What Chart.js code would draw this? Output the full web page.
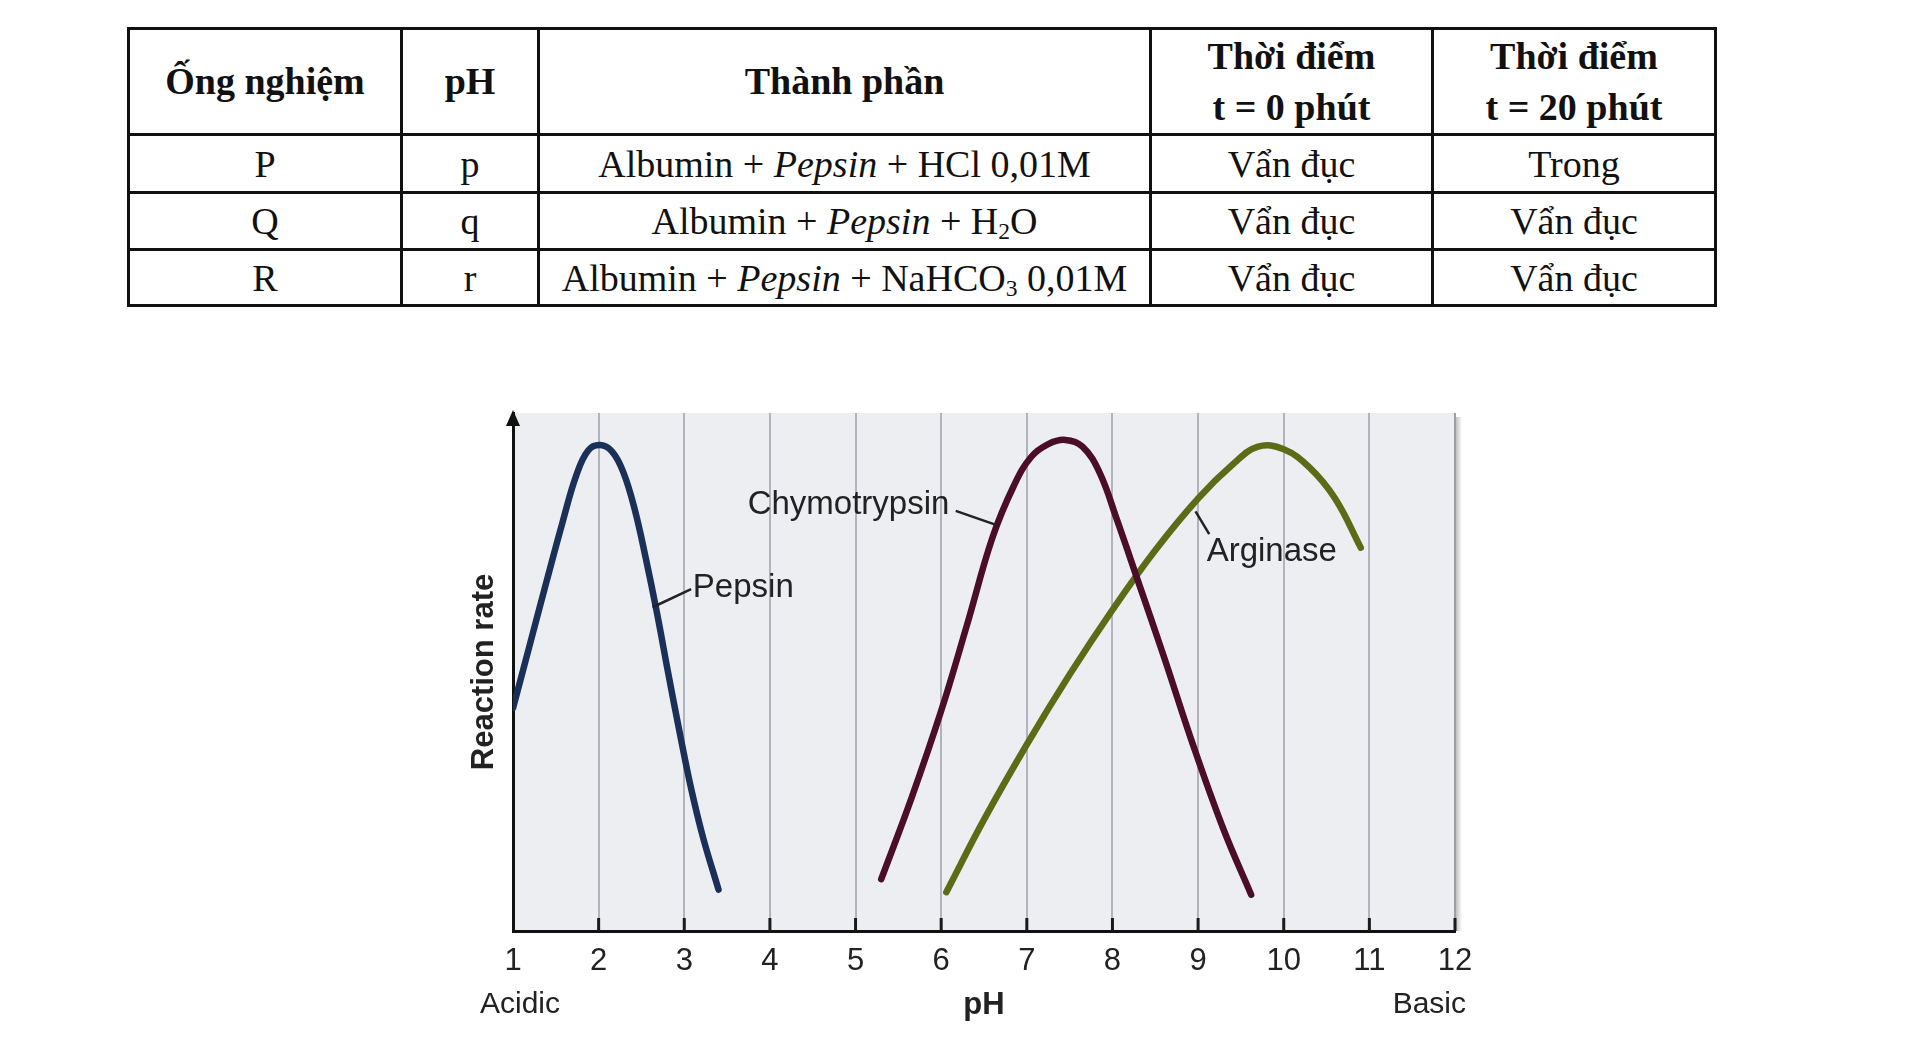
<!DOCTYPE html>
<html>
<head>
<meta charset="utf-8">
<script src="https://cdn.jsdelivr.net/npm/chart.js@4.4.1/dist/chart.umd.min.js"></script>
<style>
  body { margin: 0; background: #fff; width: 1916px; height: 1046px; overflow: hidden; position: relative; }
  table.tn {
    position: absolute; left: 127px; top: 27px;
    border-collapse: collapse; table-layout: fixed; width: 1587px;
    font-family: 'Liberation Serif', 'Times New Roman', serif; font-size: 38px; color: #111;
  }
  table.tn td, table.tn th { border: 3px solid #111; text-align: center; padding: 0; vertical-align: middle; }
  table.tn th { font-weight: bold; line-height: 51px; height: 103px; }
  table.tn tr.r1 td { height: 55px; }
  table.tn tr.r2 td { height: 54px; }
  table.tn tr.r3 td { height: 53px; }
  table.tn sub { font-size: 0.62em; vertical-align: baseline; position: relative; top: 0.22em; }
  #wrap { position: absolute; left: 380px; top: 380px; width: 1140px; height: 660px; }
</style>
</head>
<body>
<table class="tn">
  <colgroup>
    <col style="width:273px"><col style="width:137px"><col style="width:612px"><col style="width:282px"><col style="width:283px">
  </colgroup>
  <tr><th>Ống nghiệm</th><th>pH</th><th>Thành phần</th><th>Thời điểm<br>t = 0 phút</th><th>Thời điểm<br>t = 20 phút</th></tr>
  <tr class="r1"><td>P</td><td>p</td><td>Albumin + <i>Pepsin</i> + HCl 0,01M</td><td>Vẩn đục</td><td>Trong</td></tr>
  <tr class="r2"><td>Q</td><td>q</td><td>Albumin + <i>Pepsin</i> + H<sub>2</sub>O</td><td>Vẩn đục</td><td>Vẩn đục</td></tr>
  <tr class="r3"><td>R</td><td>r</td><td>Albumin + <i>Pepsin</i> + NaHCO<sub>3</sub> 0,01M</td><td>Vẩn đục</td><td>Vẩn đục</td></tr>
</table>
<div id="wrap"><canvas id="ph_chart" width="1140" height="660"></canvas></div>
<script>
// pH ticks on the x axis
const phTicks = [1, 2, 3, 4, 5, 6, 7, 8, 9, 10, 11, 12]

// curves (pH, relative reaction rate 0-100)
const pepsinPH = [1.0, 1.2, 1.4, 1.58, 1.74, 1.88, 2.02, 2.16, 2.29, 2.42, 2.55, 2.68, 2.81, 2.95, 3.08, 3.22, 3.4]
const pepsinRate = [43, 55.5, 68, 79, 88, 92.8, 93.8, 92.5, 88.5, 81.5, 72, 61.5, 50, 38, 27.5, 18, 8]

const chymoPH = [5.3, 5.65, 6.0, 6.3, 6.6, 6.85, 7.05, 7.25, 7.45, 7.65, 7.85, 8.05, 8.3, 8.6, 8.95, 9.3, 9.62]
const chymoRate = [10, 25.5, 42.5, 59, 76, 86, 91.5, 94, 94.8, 93.5, 88.5, 79.5, 67.5, 53, 35.5, 19.5, 7]

const arginasePH = [6.06, 6.5, 7.0, 7.5, 8.0, 8.5, 9.0, 9.4, 9.7, 10.0, 10.3, 10.6, 10.9]
const arginaseRate = [7.5, 21.5, 36, 49.5, 62, 73.5, 83.5, 90, 93.5, 93, 89.5, 83.5, 74]

// curve labels and their leader lines (in pH / rate units)
const labelNames = ['Pepsin', 'Chymotrypsin', 'Arginase']
const labelPH = [3.1, 3.74, 9.1]
const labelRate = [66.2, 82.2, 73.2]
const leaderFrom = [[2.63, 62.5], [6.17, 81.1], [8.97, 81]]
const leaderTo = [[3.08, 66], [6.64, 78.4], [9.13, 76.6]]

const sansFont = "'Liberation Sans', Arial, sans-serif"
Chart.defaults.font.family = sansFont
Chart.defaults.color = '#222'

const toPoints = (xs, ys) => xs.map((x, i) => ({ x: x, y: ys[i] }))

const phDecor = {
  id: 'phDecor',
  beforeDraw(chart) {
    const { ctx, chartArea: a } = chart
    ctx.save()
    // soft shadow on the right edge of the panel
    const g = ctx.createLinearGradient(a.right, 0, a.right + 7, 0)
    g.addColorStop(0, 'rgba(120,122,128,0.55)')
    g.addColorStop(1, 'rgba(120,122,128,0)')
    ctx.fillStyle = g
    ctx.fillRect(a.right, a.top + 4, 7, a.bottom - a.top - 4)
    ctx.fillStyle = '#eceef2'
    ctx.fillRect(a.left, a.top, a.right - a.left, a.bottom - a.top)
    ctx.restore()
  },
  afterDraw(chart) {
    const { ctx, chartArea: a } = chart
    const xs = chart.scales.x
    const ys = chart.scales.y
    ctx.save()
    // inward ticks
    ctx.strokeStyle = '#1a1a1a'
    ctx.lineWidth = 3
    phTicks.forEach((v) => {
      if (v === phTicks[0]) return
      const px = xs.getPixelForValue(v)
      ctx.beginPath()
      ctx.moveTo(px, a.bottom)
      ctx.lineTo(px, a.bottom - 13)
      ctx.stroke()
    })
    // arrow head on the y axis
    ctx.fillStyle = '#111'
    ctx.beginPath()
    ctx.moveTo(a.left, a.top - 3)
    ctx.lineTo(a.left - 7, a.top + 13)
    ctx.lineTo(a.left + 7, a.top + 13)
    ctx.closePath()
    ctx.fill()
    // Acidic / Basic
    ctx.font = '30px ' + sansFont
    ctx.fillStyle = '#222'
    ctx.textBaseline = 'middle'
    ctx.textAlign = 'center'
    ctx.fillText('Acidic', xs.getPixelForValue(1) + 7, a.bottom + 74)
    ctx.textAlign = 'right'
    ctx.fillText('Basic', xs.getPixelForValue(12) + 11, a.bottom + 74)
    // curve labels
    ctx.font = '33px ' + sansFont
    ctx.textAlign = 'left'
    labelNames.forEach((name, i) => {
      ctx.fillText(name, xs.getPixelForValue(labelPH[i]), ys.getPixelForValue(labelRate[i]))
      ctx.lineWidth = 2.5
      ctx.strokeStyle = '#222'
      ctx.beginPath()
      ctx.moveTo(xs.getPixelForValue(leaderFrom[i][0]), ys.getPixelForValue(leaderFrom[i][1]))
      ctx.lineTo(xs.getPixelForValue(leaderTo[i][0]), ys.getPixelForValue(leaderTo[i][1]))
      ctx.stroke()
    })
    ctx.restore()
  },
}

const lineStyle = {
  borderWidth: 6.5,
  pointRadius: 0,
  tension: 0.4,
  borderCapStyle: 'round',
  borderJoinStyle: 'round',
  fill: false,
}

new Chart(document.getElementById('ph_chart').getContext('2d'), {
  type: 'line',
  data: {
    datasets: [
      { label: 'Pepsin', data: toPoints(pepsinPH, pepsinRate), borderColor: '#1b3058', ...lineStyle },
      { label: 'Chymotrypsin', data: toPoints(chymoPH, chymoRate), borderColor: '#4b0d28', ...lineStyle },
      { label: 'Arginase', data: toPoints(arginasePH, arginaseRate), borderColor: '#5e6b16', ...lineStyle },
    ],
  },
  options: {
    responsive: false,
    animation: false,
    layout: { padding: { top: 33, right: 65, left: 0, bottom: 0 } },
    plugins: {
      legend: { display: false },
      tooltip: { enabled: false },
    },
    scales: {
      x: {
        type: 'linear',
        min: 1,
        max: 12,
        afterBuildTicks: (scale) => {
          scale.ticks = phTicks.map((v) => ({ value: v }))
        },
        afterFit: (scale) => {
          scale.height = 109
        },
        grid: {
          drawTicks: false,
          lineWidth: 2,
          color: (c) => (c.tick && c.tick.value === 1 ? 'rgba(0,0,0,0)' : c.tick && c.tick.value === 12 ? '#9c9fa6' : '#b1b4bb'),
        },
        border: { display: true, color: '#111', width: 3 },
        ticks: {
          padding: 12,
          color: '#222',
          font: { size: 31 },
          maxRotation: 0,
        },
        title: {
          display: true,
          text: 'pH',
          color: '#222',
          font: { size: 31, weight: 'bold' },
          padding: { top: 0, bottom: 16 },
        },
      },
      y: {
        min: 0,
        max: 100,
        afterFit: (scale) => {
          scale.width = 133
        },
        grid: { display: false, drawTicks: false },
        border: { display: true, color: '#111', width: 3 },
        ticks: { display: false },
        title: {
          display: true,
          text: 'Reaction rate',
          color: '#222',
          font: { size: 31, weight: 'bold' },
          padding: { top: 86, bottom: 0 },
        },
      },
    },
  },
  plugins: [phDecor],
})
</script>
</body>
</html>
